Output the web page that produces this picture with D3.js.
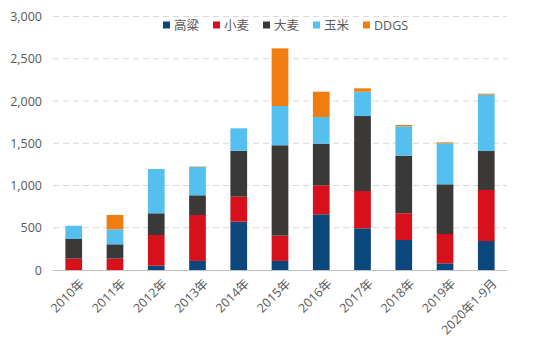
<!DOCTYPE html>
<html>
<head>
<meta charset="utf-8">
<script src="https://cdn.jsdelivr.net/npm/d3@7"></script>
<style>
  html, body { margin: 0; padding: 0; background: #fff; }
  svg { display: block; }
  text { font-family: "Open Sans", "Noto Sans CJK SC", sans-serif; fill: #595959; }
</style>
</head>
<body>
<svg id="chart" width="550" height="343"></svg>
<script>
// Categories (years)
const years = ["2010年", "2011年", "2012年", "2013年", "2014年", "2015年", "2016年", "2017年", "2018年", "2019年", "2020年1-9月"];

// Series values (stacked in this order, bottom to top)
const sorghum = [0, 0, 51, 107, 572, 107, 659, 493, 355, 79, 343];      // 高粱
const wheat   = [134, 134, 363, 544, 296, 299, 343, 442, 316, 347, 604]; // 小麦
const barley  = [233, 170, 257, 233, 544, 1070, 493, 887, 682, 588, 461]; // 大麦
const corn    = [157, 177, 524, 335, 265, 465, 316, 288, 347, 485, 667]; // 玉米
const ddgs    = [0, 170, 0, 5, 0, 682, 299, 40, 16, 12, 12];            // DDGS

const seriesNames = ["高粱", "小麦", "大麦", "玉米", "DDGS"];
const seriesColors = ["#0c477c", "#d7111c", "#3b3838", "#55bff0", "#ef7d0f"];
const yTicks = [0, 500, 1000, 1500, 2000, 2500, 3000];

const rows = years.map((yr, i) => ({
  year: yr, "高粱": sorghum[i], "小麦": wheat[i], "大麦": barley[i], "玉米": corn[i], "DDGS": ddgs[i]
}));

const svg = d3.select("#chart");
const plotLeft = 53, plotRight = 507, plotTop = 16.5, plotBottom = 270;

const x = d3.scaleBand().domain(years).range([plotLeft, plotRight]).paddingInner(0.595).paddingOuter(0.3);
const y = d3.scaleLinear().domain([0, 3000]).range([plotBottom, plotTop]);

// Horizontal dashed gridlines
svg.append("g").selectAll("line")
  .data(yTicks.filter(t => t > 0))
  .join("line")
  .attr("x1", plotLeft).attr("x2", plotRight)
  .attr("y1", d => y(d)).attr("y2", d => y(d))
  .attr("stroke", "#d9d9d9").attr("stroke-width", 1)
  .attr("stroke-dasharray", "6,4");

// Y axis labels
const yAxis = d3.axisLeft(y).tickValues(yTicks).tickFormat(d3.format(",")).tickSize(0).tickPadding(0);
const yg = svg.append("g").attr("transform", `translate(${plotLeft - 11},0)`).call(yAxis);
yg.select(".domain").remove();
yg.selectAll("text").attr("font-size", 12.5).style("fill", "#595959")
  .attr("font-family", "'Open Sans', sans-serif");

// Stacked bars
const stack = d3.stack().keys(seriesNames);
const layers = stack(rows);
svg.append("g").selectAll("g")
  .data(layers)
  .join("g")
  .attr("fill", (d, i) => seriesColors[i])
  .selectAll("rect")
  .data(d => d.filter(s => s[1] - s[0] > 0))
  .join("rect")
  .attr("x", d => x(d.data.year))
  .attr("width", x.bandwidth())
  .attr("y", d => y(d[1]))
  .attr("height", d => y(d[0]) - y(d[1]));

// X axis baseline
svg.append("line")
  .attr("x1", plotLeft).attr("x2", plotRight)
  .attr("y1", plotBottom + 0.5).attr("y2", plotBottom + 0.5)
  .attr("stroke", "#bfbfbf").attr("stroke-width", 1);

// X axis labels, rotated
svg.append("g").selectAll("text")
  .data(years)
  .join("text")
  .attr("transform", d => `translate(${x(d) + x.bandwidth() / 2 + 9},${plotBottom + 12}) rotate(-45)`)
  .attr("text-anchor", "end")
  .attr("dominant-baseline", "middle")
  .attr("font-size", 12.5)
  .text(d => d);

// Legend
const legendX = [163, 213, 263, 313, 363];
const legend = svg.append("g").selectAll("g")
  .data(seriesNames)
  .join("g")
  .attr("transform", (d, i) => `translate(${legendX[i]},25)`);
legend.append("rect")
  .attr("x", 0).attr("y", -3.5).attr("width", 7).attr("height", 7)
  .attr("fill", (d, i) => seriesColors[i]);
legend.append("text")
  .attr("x", 11).attr("y", 0)
  .attr("dominant-baseline", "central")
  .attr("font-size", 12.5)
  .text(d => d);
</script>
</body>
</html>
